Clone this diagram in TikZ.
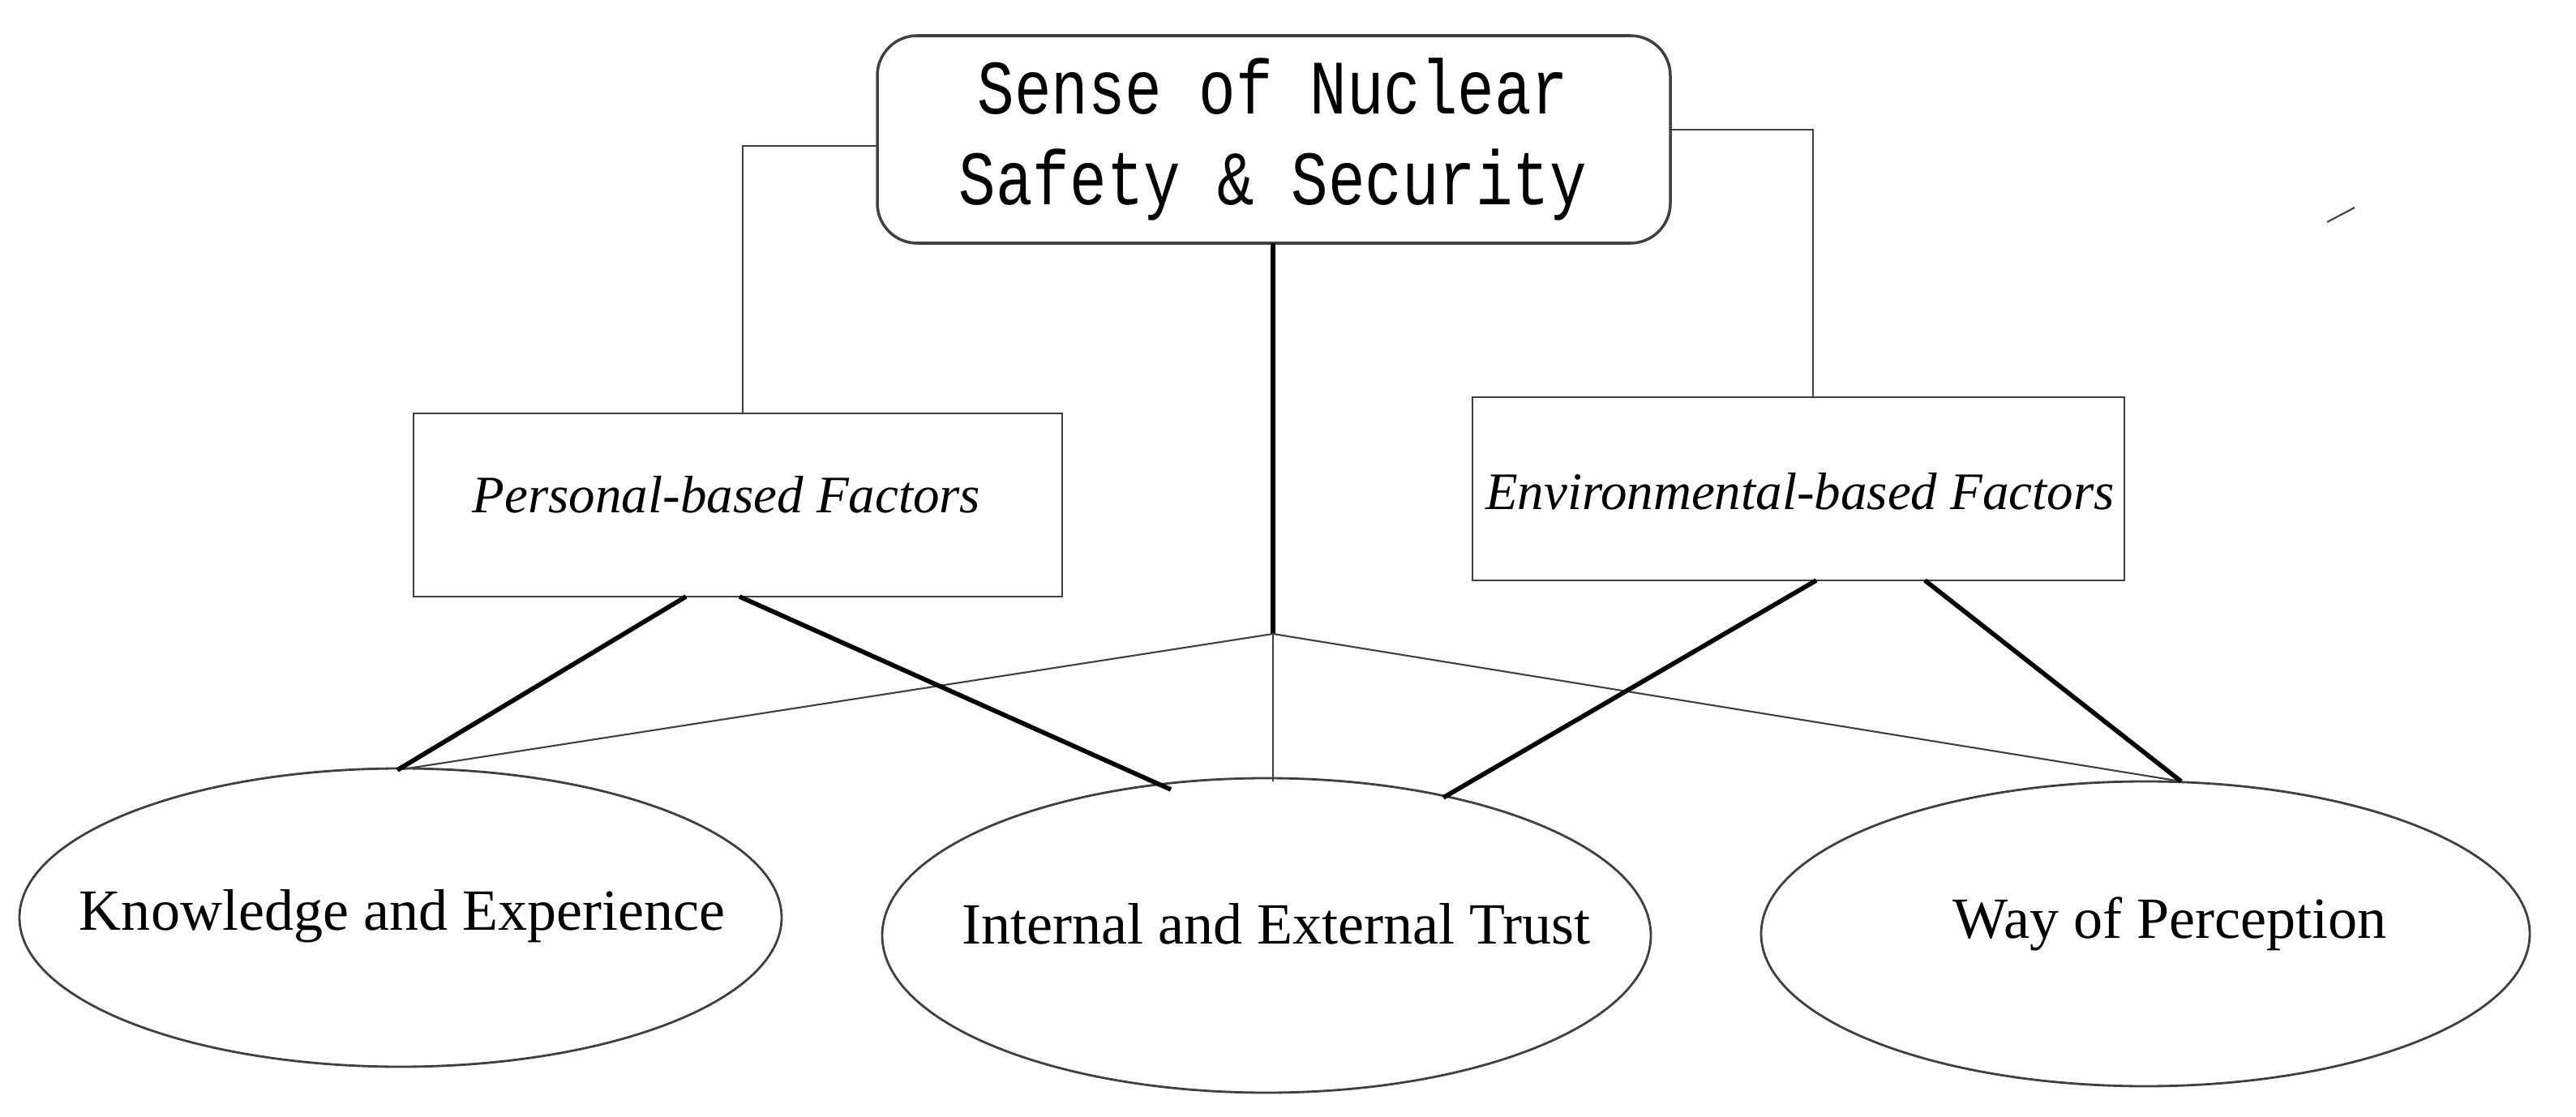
\documentclass[tikz,border=0pt]{standalone}
\usepackage{fontspec}
\setmainfont{Liberation Serif}
\newfontfamily\monof{Liberation Mono}
\usetikzlibrary{shapes.geometric}
\begin{document}
\begin{tikzpicture}[x=0.02cm,y=-0.02cm,
  thinln/.style={line width=0.6pt,black!75},
  thickln/.style={line width=1.6pt},
  elli/.style={draw,black!75,line width=0.8pt,ellipse,inner sep=0pt},
  lbl/.style={font=\fontsize{20.5}{24}\selectfont},
  fbox/.style={draw,black!75,line width=0.8pt,inner sep=0pt}]
\useasboundingbox (0,0) rectangle (1588.5,689);
\draw[black!75,line width=1pt,rounded corners=14pt] (541,22) rectangle (1030,150);
\node[font=\monof\fontsize{27}{32}\selectfont,align=center,xscale=0.8] (top) at (785,86) {Sense of Nuclear\\Safety \& Security};
\coordinate (topL) at (541,90);
\coordinate (topR) at (1030,80);
\coordinate (topB) at (785,150);
\node[fbox,minimum width=400*0.02cm,minimum height=113*0.02cm] (pers) at (455,311.5) {};
\node[font=\itshape\fontsize{18.5}{22}\selectfont] at (448,305) {Personal-based Factors};
\node[fbox,minimum width=402*0.02cm,minimum height=113*0.02cm] (env) at (1109,301.5) {};
\node[font=\itshape\fontsize{18.5}{22}\selectfont] at (1110,303) {Environmental-based Factors};
\node[elli,minimum width=470*0.02cm,minimum height=184*0.02cm] (k) at (247,566) {};
\node[lbl] at (248,565) {Knowledge and Experience};
\node[elli,minimum width=474*0.02cm,minimum height=194*0.02cm] (t) at (781,577) {};
\node[lbl] at (787,570) {Internal and External Trust};
\node[elli,minimum width=474*0.02cm,minimum height=188*0.02cm] (w) at (1323,576) {};
\node[lbl] at (1338,570) {Way of Perception};
\coordinate (hub) at (785,391);
\draw[thinln] (topL) -| (pers.north -| 458,0);
\draw[thinln] (topR) -| (env.north -| 1118,0);
\draw[thickln] (topB) -- (hub);
\draw[thinln] (245,475) -- (hub) -- (1345,482);
\draw[thinln] (hub) -- (785,482);
\draw[thickln] (423,368) -- (245,475);
\draw[thickln] (456,368) -- (722,487);
\draw[thickln] (1120,358) -- (890,492);
\draw[thickln] (1187,358) -- (1345,482);
\draw[thinln] (1435,137) -- (1452,128);
\end{tikzpicture}
\end{document}
